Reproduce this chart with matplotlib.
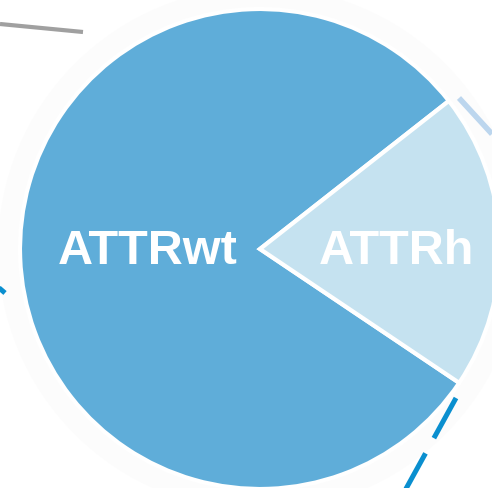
import matplotlib
matplotlib.use("Agg")
import matplotlib.pyplot as plt
from matplotlib.patches import Circle

plt.rcParams["lines.scale_dashes"] = False

categories = ["ATTRwt", "ATTRh"]
values = [80, 20]
colors = ["#5fadd9", "#c5e2f0"]

W, H = 492, 488
fig = plt.figure(figsize=(W / 100, H / 100), dpi=100)
ax = fig.add_axes([0, 0, 1, 1])

cx, cy, r = 260, 249, 240

# faint backdrop circle
ax.add_patch(Circle((cx, cy), r + 22, facecolor="#fcfcfc", edgecolor="none", zorder=0))

wedges, texts = ax.pie(values, colors=colors, startangle=-38.1, counterclock=False,
                       center=(cx, cy), radius=r, frame=True,
                       wedgeprops=dict(edgecolor="white", linewidth=3))
for w in wedges:
    w.set_zorder(2)
ax.set_xlim(0, W)
ax.set_ylim(H, 0)
ax.set_aspect("equal")
ax.axis("off")

font = dict(color="white", fontsize=35, fontweight="bold", family=["Liberation Sans", "DejaVu Sans"],
            ha="center", va="center", zorder=3)
ax.text(148, 251, categories[0], **font)
ax.text(396, 251, categories[1], **font)

# connector lines from surrounding figure (cropped)
ax.plot([0, 83], [24, 32], color="#a0a0a0", lw=3, solid_capstyle="butt", zorder=1)
ax.plot([459, 492], [98, 134], color="#bcd6ee", lw=4, solid_capstyle="butt", zorder=1)
ax.plot([456, 402], [398, 496], color="#0a8fcf", lw=3.6, linestyle=(0, (33, 12.5)),
        solid_capstyle="butt", dash_capstyle="butt", zorder=3)
ax.plot([-2, 5], [287, 293], color="#0a8fcf", lw=3.6, solid_capstyle="butt", zorder=1)

fig.savefig("out.png", dpi=100)
